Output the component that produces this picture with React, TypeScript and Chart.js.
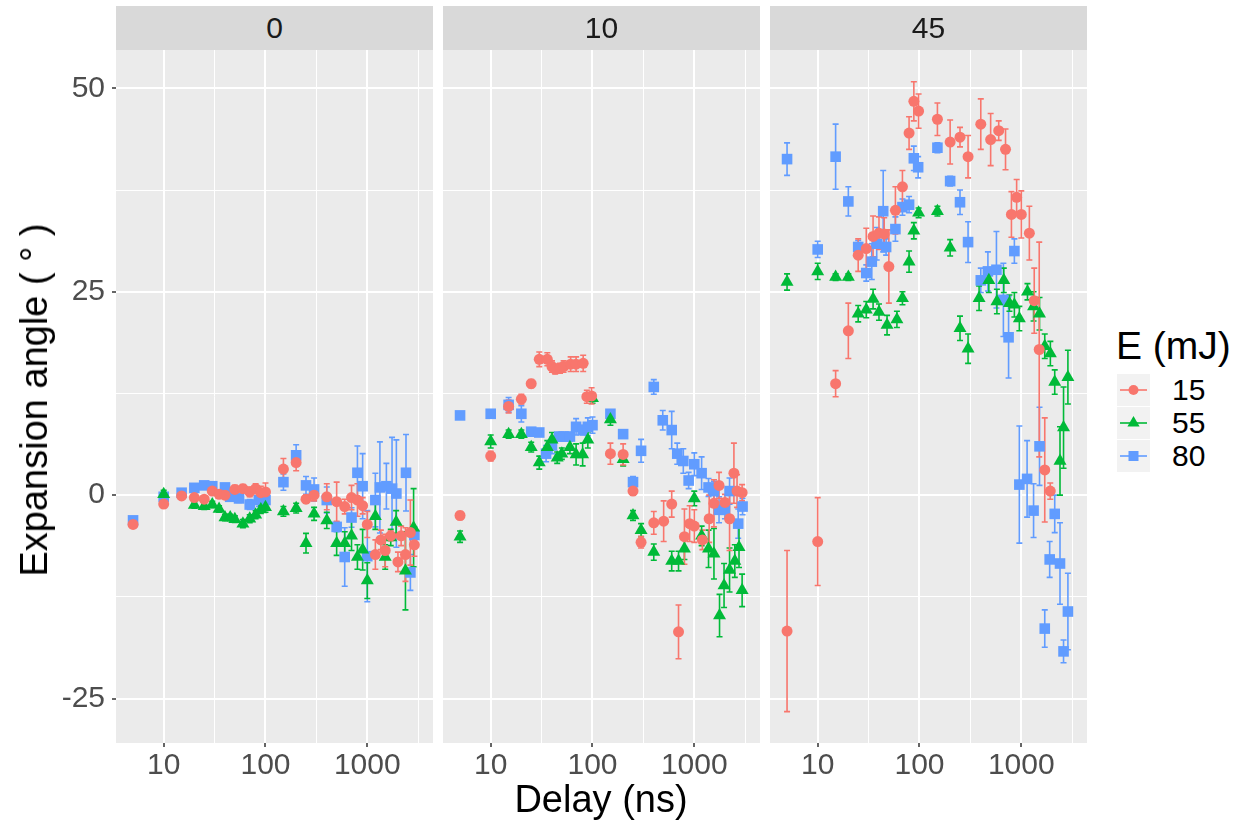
import { useEffect, useRef } from 'react';
import { Chart, registerables } from 'chart.js';

Chart.register(...registerables);

const FONT = '"Liberation Sans", Arial, Helvetica, sans-serif';

// ---------- facets, series, ticks ----------
const tilts = ['0', '10', '45'];
const energies = ['15', '55', '80'];
const energyColors = ['#F8766D', '#00BA38', '#619CFF'];
const energyShapes = ['circle', 'triangle', 'rect'];
const energyRadius = [5.5, 7.5, 7.5];

const xGridValues = [10, 31.623, 100, 316.23, 1000, 3162.3];
const xMajorTicks = [10, 100, 1000];
const yGridValues = [-25, -12.5, 0, 12.5, 25, 37.5, 50];
const yMajorTicks = [-25, 0, 25, 50];

// ---------- tilt 0 ----------
const t0_15_x = [5, 10, 15, 20, 25, 30, 35, 40, 50, 60, 70, 80, 90, 100, 150, 200, 250, 300, 400, 500, 600, 700, 800, 900, 1000, 1200, 1360, 1500, 1700, 2000, 2150, 2370, 2650, 2900];
const t0_15_y = [-3.6, -1.1, -0.1, -0.3, -0.5, 0.5, 0.1, 0.0, 0.7, 0.8, 0.4, 0.8, 0.3, 0.4, 3.2, 4.0, -0.5, 0.0, -0.2, -0.8, -1.4, -0.3, -0.6, -1.3, -3.6, -7.3, -5.5, -6.8, -5.0, -8.2, -5.0, -7.3, -4.6, -6.1];
const t0_15_e = [0.4, 0.4, 0.3, 0.3, 0.3, 0.4, 0.4, 0.4, 0.5, 0.5, 0.6, 0.6, 0.8, 1.1, 1.3, 1.0, 0.5, 0.7, 1.6, 2.4, 0.9, 1.5, 2.0, 1.0, 1.6, 1.8, 1.2, 2.0, 0.6, 1.2, 1.2, 3.3, 4.0, 1.4];

const t0_55_x = [10, 20, 25, 30, 35, 40, 45, 50, 60, 70, 80, 90, 100, 150, 200, 250, 300, 400, 500, 600, 700, 800, 900, 1000, 1200, 1500, 1700, 1920, 2370, 2850];
const t0_55_y = [0.1, -1.2, -1.35, -1.15, -1.7, -2.75, -2.75, -2.95, -3.5, -2.9, -2.4, -1.75, -1.5, -2.0, -1.6, -5.9, -2.3, -3.1, -5.9, -5.9, -5.0, -7.6, -6.7, -10.5, -2.6, -7.6, -5.2, -3.3, -9.3, -4.0];
const t0_55_e = [0.5, 0.4, 0.4, 0.4, 0.4, 0.4, 0.4, 0.4, 0.5, 0.5, 0.5, 0.5, 0.6, 0.6, 0.6, 1.2, 0.8, 1.0, 1.5, 1.4, 1.8, 1.5, 2.5, 2.2, 1.6, 1.5, 1.0, 1.4, 4.8, 4.8];

const t0_80_x = [5, 10, 15, 20, 25, 30, 40, 45, 55, 70, 86, 100, 150, 200, 250, 300, 400, 500, 600, 700, 800, 900, 1000, 1200, 1330, 1540, 1750, 1930, 2400, 2650, 2900];
const t0_80_y = [-3.1, -0.2, 0.3, 0.9, 1.2, 1.1, 0.95, -0.2, -0.4, -1.15, -0.6, -0.6, 1.6, 4.9, 1.2, 0.7, -0.6, -3.9, -7.6, -2.75, 2.75, 1.1, -7.5, -0.6, 0.95, 1.1, 0.8, 0.2, 2.75, -9.5, -4.9];
const t0_80_e = [0.4, 0.4, 0.4, 0.4, 0.4, 0.4, 0.4, 0.5, 0.5, 0.6, 0.8, 0.8, 1.0, 1.3, 1.1, 1.4, 1.6, 0.6, 3.6, 1.2, 3.3, 4.0, 5.6, 3.3, 5.6, 2.8, 6.3, 6.6, 4.7, 2.2, 1.0];

// ---------- tilt 10 ----------
const t10_15_x = [5, 10, 15, 20, 25, 30, 36, 40, 43, 48, 52, 61, 69, 81, 88, 98, 150, 200, 250, 300, 400, 500, 600, 700, 800, 900, 1000, 1200, 1400, 1560, 1750, 2000, 2220, 2450, 2630, 2950];
const t10_15_y = [-2.5, 4.8, 10.9, 11.8, 13.7, 16.7, 16.7, 15.8, 15.5, 15.6, 15.8, 16.1, 16.1, 16.2, 12.1, 12.2, 5.1, 5.0, 0.5, -5.8, -3.4, -3.2, -1.1, -16.8, -5.1, -3.5, -3.8, -5.5, -2.9, -1.0, 1.2, -0.9, -2.9, 2.7, 0.5, 0.3];
const t10_15_e = [0.5, 0.6, 0.8, 0.6, 0.5, 0.9, 0.8, 0.7, 0.6, 0.6, 0.7, 0.9, 0.9, 1.0, 0.8, 1.0, 1.3, 1.3, 0.5, 0.7, 1.4, 2.5, 1.6, 3.3, 3.4, 2.2, 2.0, 1.2, 2.9, 2.9, 1.6, 1.0, 3.9, 3.7, 2.0, 1.0];

const t10_55_x = [5, 10, 15, 20, 25, 30, 36, 40, 45, 50, 60, 69, 80, 90, 100, 150, 200, 250, 300, 400, 600, 700, 800, 1000, 1180, 1380, 1560, 1770, 1960, 2220, 2500, 2750, 2950];
const t10_55_y = [-5.1, 6.6, 7.5, 7.5, 5.9, 4.0, 5.9, 6.8, 4.6, 5.1, 5.9, 5.0, 5.0, 6.8, 11.9, 9.3, 4.4, -2.5, -4.3, -7.0, -8.1, -8.1, -6.6, -0.4, -5.0, -6.6, -7.2, -14.8, -11.1, -9.2, -8.1, -6.4, -11.7];
const t10_55_e = [0.7, 0.8, 0.5, 0.5, 0.6, 0.8, 0.8, 0.9, 0.7, 0.7, 0.8, 1.3, 1.4, 1.0, 0.6, 0.7, 0.8, 0.6, 0.8, 1.0, 1.2, 1.2, 1.3, 0.9, 1.2, 2.3, 3.1, 2.6, 2.7, 2.7, 2.0, 2.5, 2.0];

const t10_80_x = [5, 10, 15, 20, 25, 30, 35, 40, 47, 52, 60, 69, 80, 90, 100, 150, 200, 250, 300, 400, 490, 600, 680, 780, 880, 1000, 1180, 1380, 1560, 1750, 2000, 2220, 2700, 2980];
const t10_80_y = [9.8, 10.0, 11.1, 10.0, 7.8, 7.7, 5.1, 6.1, 7.2, 7.2, 7.2, 8.4, 8.0, 8.4, 8.6, 10.0, 7.5, 1.6, 5.45, 13.3, 9.2, 8.0, 5.1, 4.2, 1.8, 3.8, 2.7, 0.95, 0.5, -1.8, -1.8, 0.5, -3.5, -1.4];
const t10_80_e = [0.3, 0.3, 0.9, 1.0, 0.4, 0.4, 1.0, 1.0, 0.5, 0.5, 0.5, 1.0, 0.6, 1.1, 1.0, 0.5, 0.4, 0.7, 1.4, 0.9, 1.2, 2.3, 1.3, 1.5, 1.0, 1.4, 2.0, 1.1, 1.2, 1.6, 1.1, 1.6, 1.8, 1.0];

// ---------- tilt 45 ----------
const t45_15_x = [5, 10, 15, 20, 25, 30, 35, 40, 45, 50, 58, 68, 79, 88, 98, 150, 200, 250, 300, 400, 500, 600, 700, 800, 900, 1000, 1200, 1340, 1500, 1700, 1925];
const t45_15_y = [-16.7, -5.7, 13.7, 20.2, 29.5, 30.3, 31.8, 32.2, 32.1, 28.1, 35.0, 37.9, 44.5, 48.4, 47.2, 46.2, 43.4, 44.0, 41.6, 45.6, 43.7, 44.8, 42.5, 34.5, 36.6, 34.5, 32.2, 23.9, 17.9, 3.1, 0.5];
const t45_15_e = [9.9, 5.4, 1.6, 3.4, 2.0, 2.5, 2.5, 2.0, 2.0, 4.5, 2.9, 2.0, 2.0, 2.4, 2.1, 2.0, 2.7, 1.2, 2.6, 3.1, 3.2, 1.2, 2.5, 2.8, 2.2, 2.9, 3.3, 4.0, 13.2, 6.4, 1.0];

const t45_55_x = [5, 10, 15, 20, 25, 30, 35, 40, 48, 60, 68, 79, 88, 98, 150, 200, 250, 300, 385, 480, 576, 673, 765, 855, 957, 1150, 1320, 1510, 1700, 1930, 2130, 2400, 2600, 2870];
const t45_55_y = [26.2, 27.5, 26.8, 26.8, 22.3, 22.8, 24.1, 22.5, 20.9, 21.6, 24.2, 28.7, 32.5, 34.7, 34.9, 30.4, 20.5, 18.0, 24.2, 26.4, 23.8, 26.4, 23.6, 23.4, 21.7, 25.0, 23.2, 22.3, 18.3, 17.4, 13.9, 4.2, 8.3, 14.5];
const t45_55_e = [1.0, 1.0, 0.4, 0.4, 1.0, 1.0, 1.2, 1.0, 1.2, 1.0, 0.8, 1.3, 1.0, 0.6, 0.6, 1.0, 1.5, 1.8, 1.5, 1.5, 1.5, 1.5, 1.0, 1.5, 1.5, 1.0, 1.8, 2.0, 1.5, 1.5, 1.5, 4.2, 5.0, 3.3];

const t45_80_x = [5, 10, 15, 20, 25, 30, 34, 38, 44, 47, 58, 68, 79, 88, 97, 150, 200, 250, 300, 400, 470, 570, 667, 750, 855, 957, 1140, 1320, 1510, 1700, 1900, 2130, 2400, 2600, 2870];
const t45_80_y = [41.3, 30.2, 41.6, 36.1, 30.5, 27.3, 28.7, 30.9, 34.9, 30.5, 32.7, 35.4, 35.7, 41.4, 40.3, 42.7, 38.6, 36.0, 31.1, 26.4, 27.5, 27.7, 24.0, 19.4, 30.0, 1.3, 2.0, -1.9, 6.0, -16.4, -7.9, -2.3, -8.4, -19.2, -14.3];
const t45_80_e = [2.0, 1.0, 4.0, 1.8, 0.8, 1.0, 2.2, 2.0, 5.0, 1.0, 1.5, 1.0, 1.0, 1.5, 1.3, 0.6, 0.6, 1.5, 2.5, 1.5, 2.4, 4.7, 4.5, 5.0, 1.5, 7.2, 4.7, 3.3, 4.8, 2.3, 2.2, 2.3, 5.0, 1.4, 4.7];

const facetSeries = [
  [[t0_15_x, t0_15_y, t0_15_e], [t0_55_x, t0_55_y, t0_55_e], [t0_80_x, t0_80_y, t0_80_e]],
  [[t10_15_x, t10_15_y, t10_15_e], [t10_55_x, t10_55_y, t10_55_e], [t10_80_x, t10_80_y, t10_80_e]],
  [[t45_15_x, t45_15_y, t45_15_e], [t45_55_x, t45_55_y, t45_55_e], [t45_80_x, t45_80_y, t45_80_e]],
];

// ---------- layout ----------
const W = 1243;
const H = 828;
const PANEL_TOP = 50;
const PANEL_BOTTOM = 743;
const PANEL_W = 317;
const PANEL_LEFTS = [116, 443, 770];
const X_MIN = 3.4;
const X_MAX = 4420;
const Y_MIN = -30.46;
const Y_MAX = 54.71;

const bgPlugin = {
  id: 'panelBg',
  beforeDraw(chart: any) {
    const { ctx, chartArea: a } = chart;
    ctx.save();
    ctx.fillStyle = '#EBEBEB';
    ctx.fillRect(a.left, a.top, a.right - a.left, a.bottom - a.top);
    ctx.restore();
  },
};

const errorBarPlugin = {
  id: 'errorBars',
  beforeDatasetsDraw(chart: any) {
    const { ctx, chartArea: a } = chart;
    const xs = chart.scales.x;
    const ys = chart.scales.y;
    ctx.save();
    ctx.beginPath();
    ctx.rect(a.left, a.top, a.right - a.left, a.bottom - a.top);
    ctx.clip();
    const sets = chart.data.datasets.slice().reverse();
    sets.forEach((ds: any) => {
      ctx.strokeStyle = ds.borderColor;
      ctx.lineWidth = 1.6;
      ds.data.forEach((p: any, i: number) => {
        const e = ds.errors[i];
        if (!e) return;
        const px = xs.getPixelForValue(p.x);
        const y1 = ys.getPixelForValue(p.y - e);
        const y2 = ys.getPixelForValue(p.y + e);
        ctx.beginPath();
        ctx.moveTo(px, y1);
        ctx.lineTo(px, y2);
        ctx.moveTo(px - 3, y1);
        ctx.lineTo(px + 3, y1);
        ctx.moveTo(px - 3, y2);
        ctx.lineTo(px + 3, y2);
        ctx.stroke();
      });
    });
    ctx.restore();
  },
};

function Panel({ idx }: { idx: number }) {
  const ref = useRef<HTMLCanvasElement>(null);
  const first = idx === 0;
  const canvasLeft = first ? 0 : PANEL_LEFTS[idx];
  const canvasW = first ? PANEL_LEFTS[0] + PANEL_W : PANEL_W;

  useEffect(() => {
    const datasets = facetSeries[idx].map((s, k) => ({
      label: energies[k],
      data: s[0].map((xv, i) => ({ x: xv, y: s[1][i] })),
      errors: s[2],
      pointStyle: energyShapes[k],
      pointRadius: energyRadius[k],
      pointHoverRadius: energyRadius[k],
      backgroundColor: energyColors[k],
      borderColor: energyColors[k],
      borderWidth: 0,
    }));
    const chart = new Chart(ref.current as HTMLCanvasElement, {
      type: 'scatter',
      data: { datasets } as any,
      options: {
        animation: false,
        responsive: false,
        maintainAspectRatio: false,
        events: [],
        layout: { autoPadding: false, padding: { top: PANEL_TOP, left: 0, right: 0, bottom: 0 } },
        plugins: { legend: { display: false }, tooltip: { enabled: false }, title: { display: false } },
        scales: {
          x: {
            type: 'logarithmic',
            min: X_MIN,
            max: X_MAX,
            afterBuildTicks: (s: any) => {
              s.ticks = xGridValues.map((v) => ({ value: v }));
            },
            afterFit: (s: any) => {
              s.height = H - PANEL_BOTTOM;
              s.paddingLeft = 0;
              s.paddingRight = 0;
              s.paddingTop = 0;
              s.paddingBottom = 0;
            },
            ticks: {
              autoSkip: false,
              maxRotation: 0,
              minRotation: 0,
              padding: 1,
              color: '#4D4D4D',
              font: { family: FONT, size: 30 },
              callback: (v: any) => (xMajorTicks.includes(Number(v)) ? String(v) : ''),
            },
            grid: {
              color: '#FFFFFF',
              lineWidth: (c: any) => (c.tick && xMajorTicks.includes(c.tick.value) ? 2 : 1),
              drawTicks: true,
              tickLength: 4,
              tickWidth: 1.5,
              tickColor: (c: any) => (c.tick && xMajorTicks.includes(c.tick.value) ? '#333333' : 'rgba(0,0,0,0)'),
            },
            border: { display: false },
          },
          y: {
            type: 'linear',
            min: Y_MIN,
            max: Y_MAX,
            afterBuildTicks: (s: any) => {
              s.ticks = yGridValues.map((v) => ({ value: v }));
            },
            afterFit: (s: any) => {
              s.width = first ? PANEL_LEFTS[0] : 0;
              s.paddingLeft = 0;
              s.paddingRight = 0;
              s.paddingTop = 0;
              s.paddingBottom = 0;
            },
            ticks: {
              display: first,
              autoSkip: false,
              padding: 7,
              color: '#4D4D4D',
              font: { family: FONT, size: 30 },
              callback: (v: any) => (yMajorTicks.includes(Number(v)) ? String(v) : ''),
            },
            grid: {
              color: '#FFFFFF',
              lineWidth: (c: any) => (c.tick && yMajorTicks.includes(c.tick.value) ? 2 : 1),
              drawTicks: first,
              tickLength: 4,
              tickWidth: 1.5,
              tickColor: (c: any) => (c.tick && yMajorTicks.includes(c.tick.value) ? '#333333' : 'rgba(0,0,0,0)'),
            },
            border: { display: false },
          },
        },
      } as any,
      plugins: [bgPlugin, errorBarPlugin],
    });
    return () => chart.destroy();
  }, []);

  return (
    <canvas
      ref={ref}
      width={canvasW}
      height={H}
      style={{ position: 'absolute', left: canvasLeft, top: 0, width: canvasW, height: H }}
    />
  );
}

function LegendKey({ k }: { k: number }) {
  const c = energyColors[k];
  let shape: any = null;
  if (k === 0) shape = <circle cx={16.5} cy={16} r={5} fill={c} />;
  if (k === 1) shape = <polygon points="16.5,9 22.6,19.5 10.4,19.5" fill={c} />;
  if (k === 2) shape = <rect x={11.5} y={11} width={10} height={10} fill={c} />;
  return (
    <svg width={33} height={32} style={{ position: 'absolute', left: 1117, top: 374 + k * 33 }}>
      <rect x={0} y={0} width={33} height={32} fill="#F2F2F2" />
      <line x1={3} x2={30} y1={16} y2={16} stroke={c} strokeWidth={1.6} />
      {shape}
    </svg>
  );
}

export default function App() {
  const center: any = { position: 'absolute', transform: 'translate(-50%, -50%)', whiteSpace: 'nowrap', lineHeight: 1, fontFamily: FONT };
  return (
    <div style={{ position: 'absolute', left: 0, top: 0, width: W, height: H, background: '#FFFFFF', overflow: 'hidden', fontFamily: FONT }}>
      {tilts.map((t, i) => (
        <Panel key={'p' + t} idx={i} />
      ))}
      {tilts.map((t, i) => (
        <div
          key={'s' + t}
          style={{ position: 'absolute', left: PANEL_LEFTS[i], top: 6, width: PANEL_W, height: PANEL_TOP - 6, background: '#D9D9D9', display: 'flex', alignItems: 'center', justifyContent: 'center', color: '#1A1A1A', fontSize: 30, lineHeight: 1 }}
        >
          {t}
        </div>
      ))}
      <div style={{ ...center, left: 34, top: 400, transform: 'translate(-50%, -50%) rotate(-90deg)', fontSize: 38, color: '#000' }}>
        Expansion angle ( ° )
      </div>
      <div style={{ ...center, left: 601, top: 799, fontSize: 38, color: '#000' }}>Delay (ns)</div>
      <div style={{ position: 'absolute', left: 1116, top: 345, transform: 'translateY(-50%)', whiteSpace: 'nowrap', lineHeight: 1, fontSize: 39, color: '#000' }}>
        E (mJ)
      </div>
      {energies.map((e, k) => (
        <div key={'k' + e}>
          <LegendKey k={k} />
          <div style={{ position: 'absolute', left: 1172, top: 390 + k * 33, transform: 'translateY(-50%)', lineHeight: 1, fontSize: 30, color: '#000' }}>
            {e}
          </div>
        </div>
      ))}
    </div>
  );
}
